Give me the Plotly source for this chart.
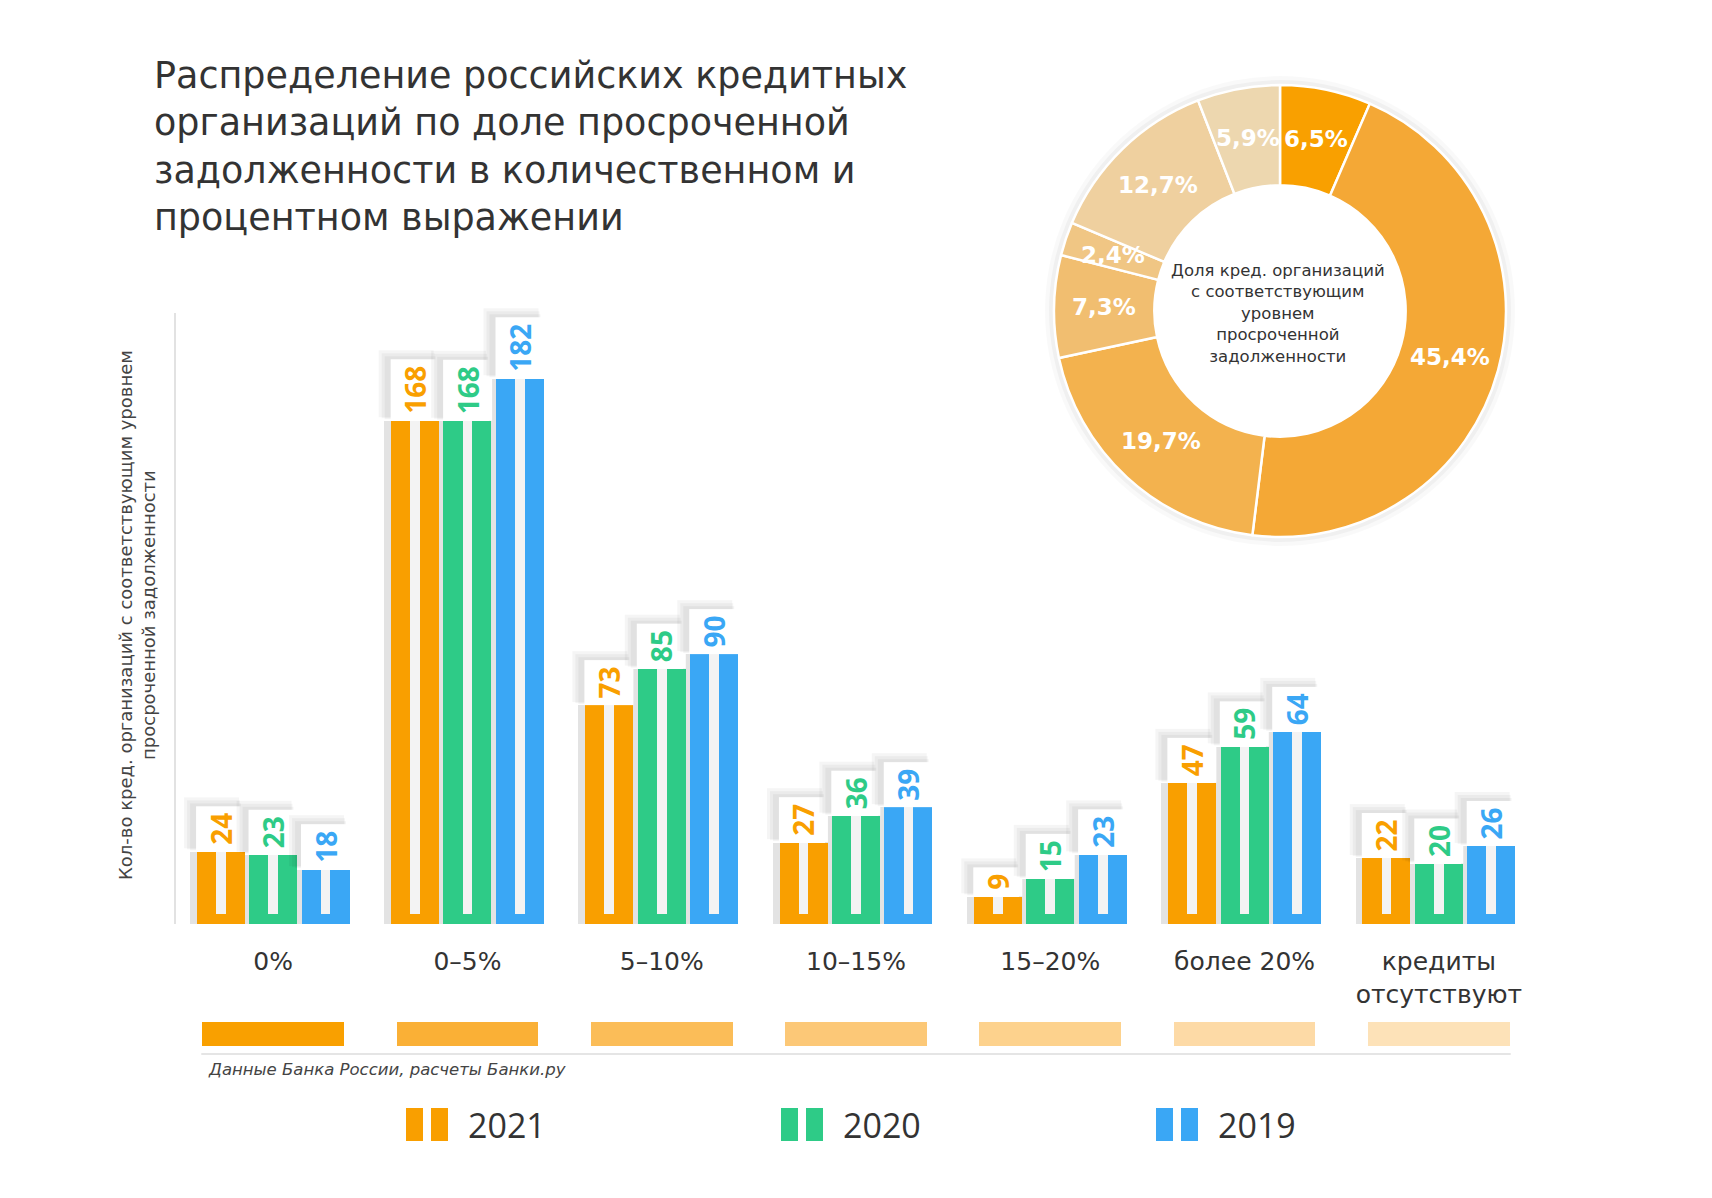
import math
import plotly.graph_objects as go

# ---------------- data ----------------
categories = ["0%", "0–5%", "5–10%", "10–15%", "15–20%", "более 20%", "кредиты<br>отсутствуют"]
years = ["2021", "2020", "2019"]
values_2021 = [24, 168, 73, 27, 9, 47, 22]
values_2020 = [23, 168, 85, 36, 15, 59, 20]
values_2019 = [18, 182, 90, 39, 23, 64, 26]
share_2021 = [6.5, 45.4, 19.7, 7.3, 2.4, 12.7, 5.9]

year_colors = ["#F99F00", "#2ECB87", "#3AA7F5"]
slice_colors = ["#F9A000", "#F4A836", "#F3B24E", "#F1BE70", "#F0C684", "#EFD09F", "#EDD7AF"]
swatch_colors = ["#F9A000", "#FAB036", "#FBBD58", "#FCC877", "#FDD28D", "#FDDAA6", "#FDE2B8"]

series = [values_2021, values_2020, values_2019]

# page body has an 8px default margin: figure is sized to fit inside it
M = 8
WF, HF = 1712 - 2 * M, 1198 - 2 * M


def px(X):
    return (X - M) / WF


def py(Y):
    return 1 - (Y - M) / HF


FONT = "DejaVu Sans"
NUMF = "Open Sans"
TXT = "#333333"

fig = go.Figure()

pos = list(range(len(categories)))
offsets = [-0.27, 0.0, 0.27]
bar_w = 0.247
stripe_w = 0.05
stripe_base = 3.5

# soft shadows behind bars
for j, vals in enumerate(series):
    fig.add_trace(go.Bar(
        x=[p + offsets[j] - 0.03 for p in pos], y=vals, width=bar_w + 0.01,
        marker=dict(color="rgba(0,0,0,0.11)", line=dict(width=0)),
        hoverinfo="skip", showlegend=False))

# bars
for j, vals in enumerate(series):
    fig.add_trace(go.Bar(
        x=[p + offsets[j] for p in pos], y=vals, width=bar_w, name=years[j],
        marker=dict(color=year_colors[j], line=dict(width=0)),
        showlegend=False))

# white center stripes
for j, vals in enumerate(series):
    fig.add_trace(go.Bar(
        x=[p + offsets[j] for p in pos], y=[v - stripe_base for v in vals],
        base=stripe_base, width=stripe_w,
        marker=dict(color="#F3F3F3", line=dict(width=0)),
        hoverinfo="skip", showlegend=False))

# swatches under the category labels (donut colour key)
fig.add_trace(go.Bar(
    x=pos, y=[1] * len(pos), width=0.73, xaxis="x2", yaxis="y2",
    marker=dict(color=swatch_colors, line=dict(width=0)),
    hoverinfo="skip", showlegend=False))

# donut of 2021 shares
CX, CY, R_OUT, HOLE = 1280, 311, 226, 0.556
# faint halo
for extra, alpha in ((9, 0.025), (5, 0.035)):
    r = R_OUT + extra
    fig.add_trace(go.Pie(
        values=[1], textinfo="none", hole=(R_OUT * HOLE) / r, sort=False,
        marker=dict(colors=[f"rgba(0,0,0,{alpha})"], line=dict(width=0)),
        domain=dict(x=[px(CX - r), px(CX + r)], y=[py(CY + r), py(CY - r)]),
        hoverinfo="skip", showlegend=False))
fig.add_trace(go.Pie(
    values=share_2021, textinfo="none",
    hole=HOLE, sort=False, direction="clockwise", rotation=0,
    marker=dict(colors=slice_colors, line=dict(color="white", width=2.5)),
    domain=dict(x=[px(CX - R_OUT), px(CX + R_OUT)], y=[py(CY + R_OUT), py(CY - R_OUT)]),
    hoverinfo="skip", showlegend=False))

annotations = []

# donut slice labels, placed at mid-ring along each slice's bisector
total = sum(share_2021)
r_mid = R_OUT * (1 + HOLE) / 2
cum = 0.0
for s in share_2021:
    theta = 2 * math.pi * (cum + s / 2) / total
    cum += s
    lx = CX + r_mid * math.sin(theta)
    ly = CY - r_mid * math.cos(theta)
    annotations.append(dict(
        x=px(lx), y=py(ly), xref="paper", yref="paper", xanchor="center", yanchor="middle",
        showarrow=False, text=f"{s:.1f}".replace(".", ",") + "%",
        font=dict(family=FONT, size=23, color="white", weight="bold")))

# value boxes on bars (layered translucent shadow + white box)
for j, vals in enumerate(series):
    for p, v in zip(pos, vals):
        x = p + offsets[j]
        for k in (3, 2, 1):
            annotations.append(dict(
                x=x, y=v, xref="x", yref="y", text=str(v), showarrow=False,
                textangle=-90, xanchor="center", yanchor="bottom",
                xshift=-3 - 2 * k, yshift=k,
                font=dict(family=NUMF, size=28, color="rgba(0,0,0,0)", weight="bold"),
                bgcolor="rgba(0,0,0,0.04)", height=36, borderpad=6 + k))
        annotations.append(dict(
            x=x, y=v, xref="x", yref="y", text=str(v), showarrow=False,
            textangle=-90, xanchor="center", yanchor="bottom",
            font=dict(family=NUMF, size=28, color=year_colors[j], weight="bold"),
            bgcolor="white", height=36, borderpad=6))

# title
annotations.append(dict(
    x=px(152), y=py(52), xref="paper", yref="paper", xanchor="left", yanchor="top",
    align="left", showarrow=False,
    text="Распределение российских кредитных<br>организаций по доле просроченной<br>"
         "задолженности в количественном и<br>процентном выражении",
    font=dict(family=FONT, size=36.5, color=TXT)))

# y-axis title
annotations.append(dict(
    x=px(137), y=py(615), xref="paper", yref="paper", xanchor="center", yanchor="middle",
    textangle=-90, showarrow=False, align="center",
    text="Кол-во кред. организаций с соответствующим уровнем<br>просроченной задолженности",
    font=dict(family=FONT, size=18, color="#444444")))

# donut centre text
annotations.append(dict(
    x=px(1278), y=py(313), xref="paper", yref="paper", xanchor="center", yanchor="middle",
    showarrow=False, align="center",
    text="Доля кред. организаций<br>с соответствующим<br>уровнем<br>просроченной<br>задолженности",
    font=dict(family=FONT, size=16.5, color=TXT)))

# source
annotations.append(dict(
    x=px(206), y=py(1069), xref="paper", yref="paper", xanchor="left", yanchor="middle",
    showarrow=False, text="<i>Данные Банка России, расчеты Банки.ру</i>",
    font=dict(family=FONT, size=16.5, color="#444444")))

shapes = []
# separator line
shapes.append(dict(type="line", xref="x", yref="paper", x0=-0.37, x1=6.37,
                   y0=py(1054), y1=py(1054), line=dict(color="#DDDDDD", width=1.5)))

# legend (icon = two vertical bars + year label)
for k, (yr, col) in enumerate(zip(years, year_colors)):
    x0 = 406 + k * 375
    for b in range(2):
        bx = x0 + b * 25
        shapes.append(dict(type="rect", xref="paper", yref="paper",
                           x0=px(bx), x1=px(bx + 17), y0=py(1141), y1=py(1108),
                           fillcolor=col, line=dict(width=0)))
    annotations.append(dict(
        x=px(x0 + 60), y=py(1125), xref="paper", yref="paper", xanchor="left",
        yanchor="middle", showarrow=False, text=yr,
        font=dict(family=NUMF, size=34, color=TXT)))

fig.update_layout(
    width=WF, height=HF, margin=dict(l=0, r=0, t=0, b=0),
    paper_bgcolor="white", plot_bgcolor="white",
    barmode="overlay", bargap=0,
    xaxis=dict(domain=[px(176), px(1536)], range=[-0.5, 6.5], tickmode="array",
               tickvals=pos, ticktext=categories, showgrid=False, zeroline=False,
               showline=False, ticks="", ticklabelstandoff=20,
               tickfont=dict(family=FONT, size=25, color=TXT), fixedrange=True),
    yaxis=dict(domain=[py(924), py(313)], range=[0, 204], showgrid=False,
               zeroline=False, showline=True, linecolor="#E2E2E2", linewidth=1.5,
               showticklabels=False, ticks="", fixedrange=True),
    xaxis2=dict(domain=[px(176), px(1536)], range=[-0.5, 6.5], anchor="y2",
                visible=False, fixedrange=True),
    yaxis2=dict(domain=[py(1046), py(1022)], range=[0, 1], anchor="x2",
                visible=False, fixedrange=True),
    annotations=annotations, shapes=shapes,
    font=dict(family=FONT, color=TXT),
)

fig.write_html("out.html")
